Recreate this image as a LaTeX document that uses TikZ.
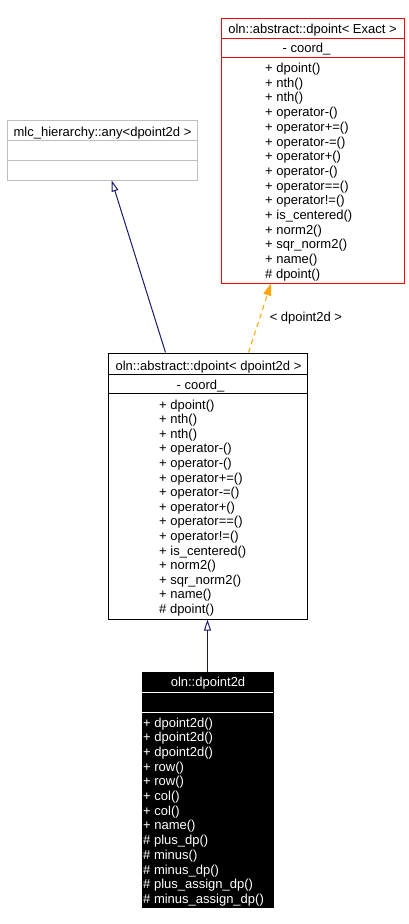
\documentclass[tikz,border=0pt]{standalone}
\usepackage{fontspec}
\setmainfont{Liberation Sans}
\usetikzlibrary{arrows.meta}
\definecolor{midnight}{RGB}{25,25,112}
\definecolor{dorange}{RGB}{255,165,0}
\definecolor{boxgray}{RGB}{191,191,191}

\begin{document}
\begin{tikzpicture}
    [ x=1pt, y=-1pt,
      font={\fontsize{13}{14.6}\selectfont},
      classbox/.style={draw, line width=1pt, inner sep=0pt},
      title/.style={anchor=base, inner sep=0pt},
      member/.style={anchor=base west, inner sep=0pt},
      inherit/.style={draw=midnight, line width=1pt,
          -{Triangle[open, length=11pt, width=7pt]}},
      template/.style={draw=dorange, line width=1pt, dash pattern=on 5pt off 4pt,
          -{Triangle[length=12pt, width=8pt, fill=dorange]}}
    ]
    \fill[white] (0, 0) rectangle (409, 924);
    \useasboundingbox (0, 0) rectangle (409, 924);

    % Template class
    \node[classbox, draw=red, minimum width=183pt, minimum height=265pt] (exact) at (312.5, 150.5) {};
    \draw[red, line width=1pt] (221, 38) -- (404, 38);
    \draw[red, line width=1pt] (221, 57) -- (404, 57);
    \node[title] (exact-title) at (312.5, 33) {oln::abstract::dpoint< Exact >};
    \node[title] (exact-attr) at (306.5, 52.5) {- coord\_};
    \foreach \m [count=\i from 0] in {+ dpoint(), + nth(), + nth(), + operator-(),
        + operator+=(), + operator-=(), + operator+(), + operator-(), + operator==(),
        + operator!=(), + is\_centered(), + norm2(), + sqr\_norm2(), + name(), \# dpoint()} {
        \node[member] (exact-m\i) at (265, 72.5 + \i * 14.7) {\m};
    }

    % Hierarchy class
    \node[classbox, draw=boxgray, minimum width=190pt, minimum height=60pt] (any) at (102, 150) {};
    \draw[boxgray, line width=1pt] (7, 140) -- (197, 140);
    \draw[boxgray, line width=1pt] (7, 160) -- (197, 160);
    \node[title] (any-title) at (102.5, 136.5) {mlc\_hierarchy::any<dpoint2d >};

    % Instantiated class
    \node[classbox, minimum width=199pt, minimum height=266pt] (mid) at (207.5, 486) {};
    \draw[line width=1pt] (108, 374) -- (307, 374);
    \draw[line width=1pt] (108, 393) -- (307, 393);
    \node[title] (mid-title) at (208.5, 370) {oln::abstract::dpoint< dpoint2d >};
    \node[title] (mid-attr) at (200.5, 389) {- coord\_};
    \foreach \m [count=\i from 0] in {+ dpoint(), + nth(), + nth(), + operator-(),
        + operator-(), + operator+=(), + operator-=(), + operator+(), + operator==(),
        + operator!=(), + is\_centered(), + norm2(), + sqr\_norm2(), + name(), \# dpoint()} {
        \node[member] (mid-m\i) at (159, 409 + \i * 14.6) {\m};
    }

    % dpoint2d
    \node[classbox, fill=black, minimum width=131pt, minimum height=235pt] (d2d) at (207.5, 789.5) {};
    \draw[white, line width=1pt] (142, 692) -- (273, 692);
    \draw[white, line width=1pt] (142, 712) -- (273, 712);
    \node[title, white] (d2d-title) at (208, 686.5) {oln::dpoint2d};
    \foreach \m [count=\i from 0] in {+ dpoint2d(), + dpoint2d(), + dpoint2d(), + row(),
        + row(), + col(), + col(), + name(), \# plus\_dp(), \# minus(), \# minus\_dp(),
        \# plus\_assign\_dp(), \# minus\_assign\_dp()} {
        \node[member, white] (d2d-m\i) at (143, 727 + \i * 14.7) {\m};
    }

    % Relations
    \draw[inherit] ([xshift=-42pt]mid.north) -- ([xshift=9.7pt]any.south);
    \draw[template] ([xshift=41pt]mid.north) -- ([xshift=-41.5pt]exact.south)
        node[midway, anchor=west, xshift=9.5pt, inner sep=0pt, text=black] (tpl-label) {< dpoint2d >};
    \draw[inherit] (d2d.north) -- (mid.south);

\end{tikzpicture}
\end{document}
